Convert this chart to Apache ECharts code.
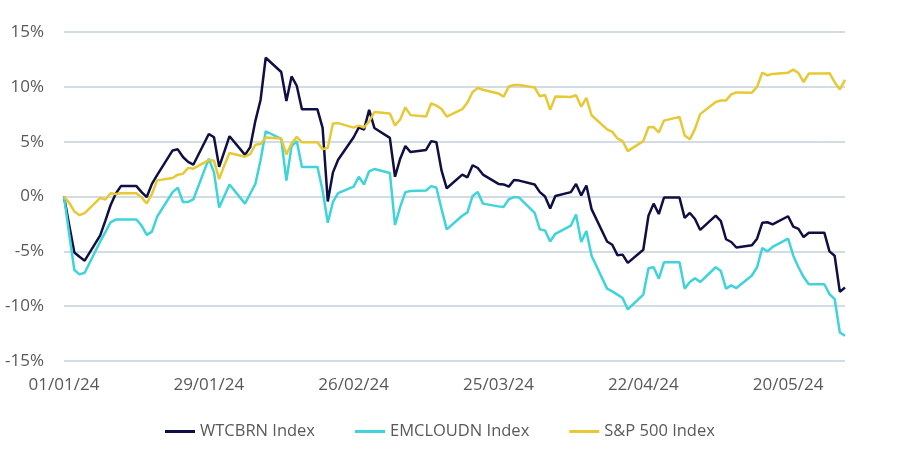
<!DOCTYPE html>
<html>
<head>
<meta charset="utf-8">
<script src="https://cdn.jsdelivr.net/npm/echarts@6/dist/echarts.min.js"></script>
<style>
  html, body { margin: 0; padding: 0; background: #ffffff; }
  #chart { width: 914px; height: 456px; }
</style>
</head>
<body>
<div id="chart"></div>
<script>
// Trading days (weekdays) shown in the chart
const dates = [
  '2024-01-01','2024-01-02','2024-01-03','2024-01-04','2024-01-05','2024-01-08','2024-01-09','2024-01-10','2024-01-11','2024-01-12',
  '2024-01-15','2024-01-16','2024-01-17','2024-01-18','2024-01-19','2024-01-22','2024-01-23','2024-01-24','2024-01-25','2024-01-26',
  '2024-01-29','2024-01-30','2024-01-31',
  '2024-02-01','2024-02-02','2024-02-05','2024-02-06','2024-02-07','2024-02-08','2024-02-09','2024-02-12','2024-02-13','2024-02-14',
  '2024-02-15','2024-02-16','2024-02-19','2024-02-20','2024-02-21','2024-02-22','2024-02-23','2024-02-26','2024-02-27','2024-02-28','2024-02-29',
  '2024-03-01','2024-03-04','2024-03-05','2024-03-06','2024-03-07','2024-03-08','2024-03-11','2024-03-12','2024-03-13','2024-03-14',
  '2024-03-15','2024-03-18','2024-03-19','2024-03-20','2024-03-21','2024-03-22','2024-03-25','2024-03-26','2024-03-27','2024-03-28','2024-03-29',
  '2024-04-01','2024-04-02','2024-04-03','2024-04-04','2024-04-05','2024-04-08','2024-04-09','2024-04-10','2024-04-11','2024-04-12',
  '2024-04-15','2024-04-16','2024-04-17','2024-04-18','2024-04-19','2024-04-22','2024-04-23','2024-04-24','2024-04-25','2024-04-26',
  '2024-04-29','2024-04-30',
  '2024-05-01','2024-05-02','2024-05-03','2024-05-06','2024-05-07','2024-05-08','2024-05-09','2024-05-10','2024-05-13','2024-05-14',
  '2024-05-15','2024-05-16','2024-05-17','2024-05-20','2024-05-21','2024-05-22','2024-05-23','2024-05-24','2024-05-27','2024-05-28',
  '2024-05-29','2024-05-30','2024-05-31'
];

// Cumulative performance (%)
const wtcbrn = [
  0, -2.6, -5.1, -5.5, -5.85, -3.55, -2.2, -0.8, 0.25, 0.95, 0.95, 0.4, -0.05, 1.15, 1.95, 4.2, 4.3, 3.6, 3.15, 2.9, 5.7, 5.4, 2.7,
  4.1, 5.5, 3.8, 4.5, 6.9, 8.8, 12.65, 11.35, 8.7, 10.95, 10.1, 7.95, 7.95, 6.25, -0.45, 2.2, 3.35, 5.4, 6.3, 6.1, 7.9,
  6.25, 5.35, 1.8, 3.45, 4.6, 4.05, 4.25, 5.05, 4.95, 2.35, 0.75, 2.0, 1.75, 2.85, 2.6, 2.0, 1.15, 1.1, 0.9, 1.5, 1.45,
  1.1, 0.4, 0.0, -1.1, 0.05, 0.4, 1.15, 0.1, 1.0, -1.15, -4.1, -4.4, -5.35, -5.3, -6.05, -4.85, -1.75, -0.65, -1.6, -0.1, -0.1, -1.95,
  -1.5, -2.05, -3.05, -1.75, -2.25, -3.9, -4.15, -4.65, -4.45, -3.85, -2.4, -2.35, -2.55, -1.8, -2.75, -2.95, -3.7, -3.3, -3.3, -5.0, -5.4, -8.7, -8.3
];
const emcloudn = [
  0, -3.4, -6.7, -7.1, -6.95, -4.1, -3.25, -2.35, -2.1, -2.1, -2.1, -2.65, -3.5, -3.2, -1.85, 0.4, 0.8, -0.5, -0.5, -0.27, 3.45, 2.2, -1.0,
  0.05, 1.1, -0.65, 0.25, 1.15, 3.3, 5.95, 5.25, 1.45, 4.6, 5.05, 2.7, 2.7, 0.55, -2.4, -0.5, 0.3, 0.9, 1.8, 1.1, 2.3,
  2.5, 2.15, -2.6, -0.95, 0.4, 0.5, 0.55, 0.95, 0.8, -1.15, -3.0, -1.75, -1.45, 0.05, 0.4, -0.65, -0.9, -0.95, -0.25, -0.05, -0.1,
  -1.5, -3.0, -3.1, -4.1, -3.4, -2.65, -1.65, -4.15, -3.15, -5.4, -8.4, -8.65, -8.95, -9.25, -10.3, -8.95, -6.55, -6.45, -7.5, -6.0, -6.0, -8.4,
  -7.8, -7.45, -7.8, -6.45, -6.8, -8.4, -8.1, -8.35, -7.2, -6.45, -4.7, -5.0, -4.6, -3.85, -5.4, -6.45, -7.35, -8.0, -8.0, -8.9, -9.35, -12.4, -12.7
];
const sp500 = [
  0, -0.57, -1.36, -1.70, -1.52, -0.13, -0.28, 0.29, 0.22, 0.29, 0.29, -0.08, -0.64, 0.23, 1.47, 1.69, 1.99, 2.07, 2.61, 2.54, 3.32, 3.25, 1.59,
  2.86, 3.96, 3.63, 3.87, 4.72, 4.78, 5.38, 5.28, 3.84, 4.84, 5.45, 4.94, 4.94, 4.31, 4.45, 6.65, 6.69, 6.28, 6.47, 6.29, 6.84,
  7.70, 7.57, 6.47, 7.02, 8.13, 7.42, 7.30, 8.50, 8.29, 7.98, 7.28, 7.96, 8.57, 9.53, 9.89, 9.74, 9.40, 9.09, 10.03, 10.16, 10.16,
  9.94, 9.14, 9.26, 7.91, 9.11, 9.07, 9.23, 8.19, 9.00, 7.41, 6.12, 5.90, 5.29, 5.06, 4.14, 5.05, 6.31, 6.33, 5.84, 6.92, 7.26, 5.57,
  5.21, 6.17, 7.51, 8.62, 8.76, 8.76, 9.31, 9.49, 9.47, 10.00, 11.29, 11.05, 11.18, 11.29, 11.57, 11.26, 10.44, 11.21, 11.21, 11.24, 10.42, 9.76, 10.64
];

const seriesNames = ['WTCBRN Index', 'EMCLOUDN Index', 'S&P 500 Index'];
const xTickLabels = ['01/01/24', '29/01/24', '26/02/24', '25/03/24', '22/04/24', '20/05/24'];
const yTicks = [-15, -10, -5, 0, 5, 10, 15];

const DAY = 86400000;
const start = Date.UTC(2024, 0, 1);
function dayIndex(s) {
  const p = s.split('-').map(Number);
  return Math.round((Date.UTC(p[0], p[1] - 1, p[2]) - start) / DAY);
}
function toPairs(vals) { return dates.map((d, i) => [dayIndex(d), vals[i]]); }

const lastDay = dayIndex(dates[dates.length - 1]);
const font = '"Open Sans", "Noto Sans", sans-serif';
const colors = ['#100f45', '#3fd3da', '#e6c935'];

const chart = echarts.init(document.getElementById('chart'), null, { renderer: 'canvas' });
chart.setOption({
  animation: false,
  backgroundColor: '#ffffff',
  color: colors,
  grid: { left: 64, right: 914 - 845, top: 32, bottom: 95, containLabel: false },
  legend: {
    left: 160, top: 418,
    icon: 'rect', itemWidth: 30, itemHeight: 3, itemGap: 40,
    textStyle: { fontFamily: font, fontSize: 16.5, color: '#595959', padding: [0, 0, 0, 0] },
    data: seriesNames
  },
  xAxis: {
    type: 'value',
    min: 0, max: lastDay, interval: 28,
    axisLine: { show: false }, axisTick: { show: false }, splitLine: { show: false },
    axisLabel: {
      margin: 16, color: '#595959', fontFamily: font, fontSize: 17,
      showMaxLabel: false,
      formatter: function (v) {
        if (v % 28 !== 0) return '';
        const k = v / 28;
        return xTickLabels[k] || '';
      }
    }
  },
  yAxis: {
    type: 'value',
    min: yTicks[0], max: yTicks[yTicks.length - 1], interval: 5,
    axisLine: { show: false }, axisTick: { show: false },
    splitLine: { lineStyle: { color: '#c6d0da', width: 1.5 } },
    axisLabel: { margin: 20, color: '#595959', fontFamily: font, fontSize: 17, formatter: v => v + '%' }
  },
  series: [
    { name: seriesNames[0], type: 'line', data: toPairs(wtcbrn), showSymbol: false, lineStyle: { width: 2.5 } },
    { name: seriesNames[1], type: 'line', data: toPairs(emcloudn), showSymbol: false, lineStyle: { width: 2.5 } },
    { name: seriesNames[2], type: 'line', data: toPairs(sp500), showSymbol: false, lineStyle: { width: 2.5 } }
  ]
});
</script>
</body>
</html>
